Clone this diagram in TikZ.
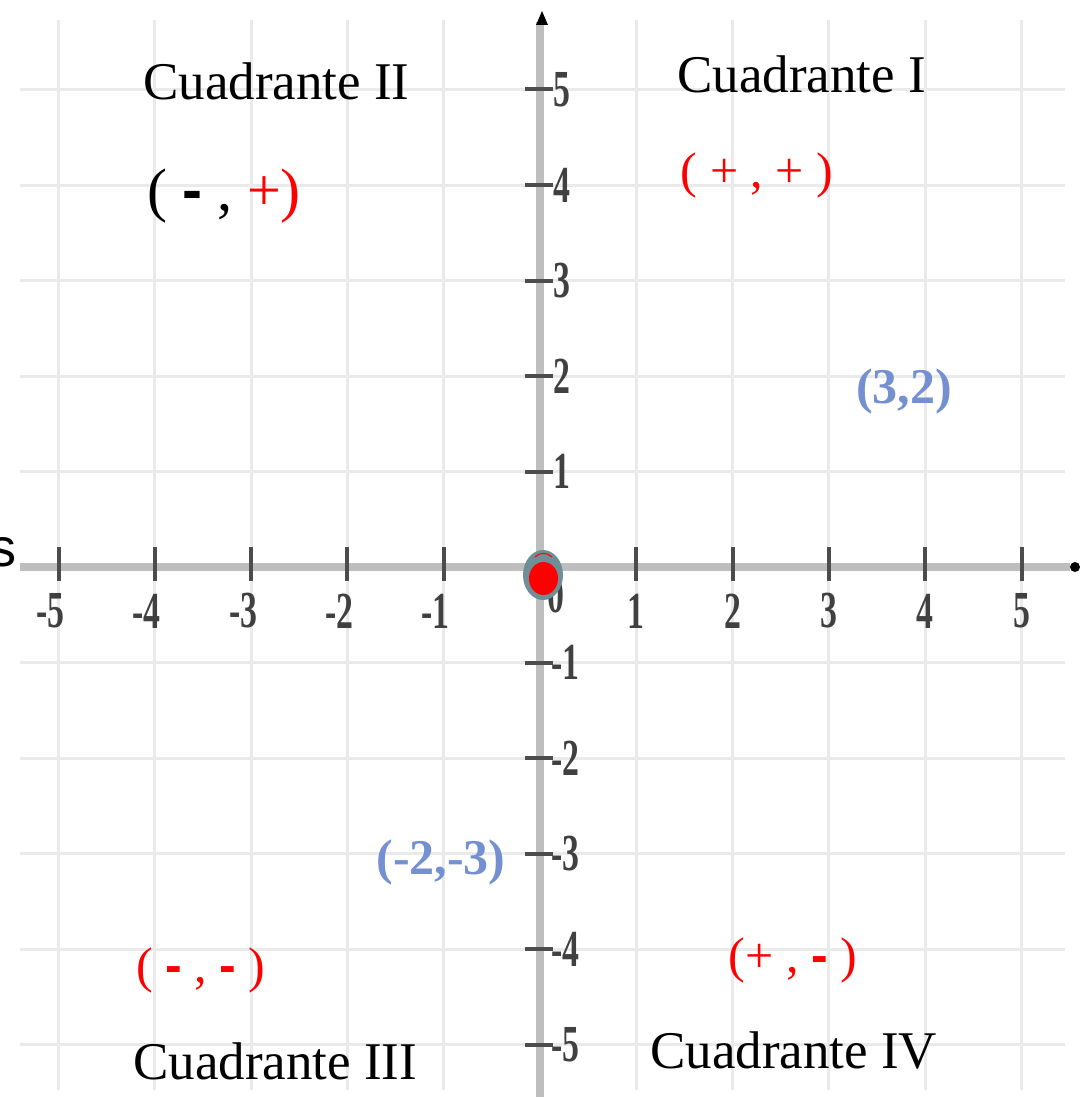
\documentclass[tikz,border=0pt]{standalone}
\usepackage{fontspec}
\usepackage{graphicx}
\setmainfont{Liberation Serif}
\newfontfamily\sansf{Liberation Sans}
\definecolor{ptblue}{RGB}{116,144,208}
\definecolor{ringgray}{RGB}{111,142,150}
\definecolor{gridgray}{RGB}{234,234,234}
\definecolor{axisgray}{RGB}{190,190,190}
\newcommand{\ticktxt}[1]{\scalebox{0.65}[1]{#1}}
\newcommand{\sdash}{{\sansf\bfseries -}}
\begin{document}
\begin{tikzpicture}[x=1pt,y=-1pt,
  gridline/.style={gridgray, line width=3pt},
  axisline/.style={axisgray, line width=8pt},
  tickmark/.style={black!70, line width=4pt},
  ticklbl/.style={inner sep=0pt, font=\fontsize{52}{52}\selectfont\bfseries, text=black!75},
  quad/.style={inner sep=0pt, anchor=base west, font=\fontsize{53}{58}\selectfont},
  sign/.style={inner sep=0pt, font=\fontsize{50}{54}\selectfont},
  coord/.style={inner sep=0pt, font=\fontsize{50}{54}\selectfont\bfseries, text=ptblue}
]
\useasboundingbox (0,0) rectangle (1084,1097);
\fill[white] (0,0) rectangle (1084,1097);

% grid
\foreach \i in {-5,...,5} {\draw[gridline] ({540+96.3*\i},20) -- ({540+96.3*\i},1090);}
\foreach \j in {-5,...,5} {\draw[gridline] (20,{567-95.5*\j}) -- (1065,{567-95.5*\j});}

% axes
\coordinate (xl) at (20,567);
\coordinate (xr) at (1070,567);
\coordinate (yt) at (540,22);
\coordinate (yb) at (540,1097);
\draw[axisline] (xl) -- (xr);
\draw[axisline] (yb) -- (yt);
\fill[black] (1075,567) circle (5);
\fill[black] (542,11) -- (536,25) -- (548,25) -- cycle;

% ticks on x axis
\foreach \i in {-5,...,-1,1,2,3,4,5} {\draw[tickmark] ({540+96.3*\i},547) -- ({540+96.3*\i},581);}
\foreach \i in {-5,...,-1} {\node[ticklbl] (xt\i) at ({540+96.3*\i-8},611) {\ticktxt{-\the\numexpr-\i\relax}};}
\foreach \i in {1,...,5} {\node[ticklbl] (xt\i) at ({540+96.3*\i},611) {\ticktxt{\i}};}

% ticks on y axis
\foreach \j in {-5,...,-1,1,2,3,4,5} {\draw[tickmark] (525,{567-95.5*\j}) -- (553,{567-95.5*\j});}
\foreach \j in {1,...,5} {\node[ticklbl, anchor=west] (yt\j) at (553,{567-95.5*\j}) {\ticktxt{\j}};}
\foreach \j in {-5,...,-1} {\node[ticklbl, anchor=west] (yt\j) at (551,{567-95.5*\j}) {\ticktxt{-\the\numexpr-\j\relax}};}
\node[ticklbl] (zero) at (556,595) {\ticktxt{0}};

% point at the origin
\fill[ringgray] (543,575) ellipse (20 and 25);
\fill[red] (543.5,578.5) ellipse (14.5 and 16.5);
\draw[red, line width=1pt] (535,557) .. controls (540,552) and (547,552) .. (552,557);

% cut-off letter at left
\node[anchor=base east, inner sep=0pt, font=\sansf\fontsize{54}{56}\selectfont] (s) at (17,566) {s};

% quadrant names
\node[quad] (q2) at (143,100) {Cuadrante II};
\node[quad] (q1) at (677,93) {Cuadrante I};
\node[quad] (q3) at (133,1079) {Cuadrante III};
\node[quad] (q4) at (650,1068) {Cuadrante IV};

% signs
\node[sign, font=\fontsize{60}{64}\selectfont] (s2) at (224,196) {( \sdash\ , \textcolor{red}{+)}};
\node[sign, text=red] (s1) at (757,175) {( + , + )};
\node[sign, text=red] (s3) at (201,970) {( \sdash\ , \sdash\ )};
\node[sign, text=red] (s4) at (793,960) {(+ , \sdash\ )};

% example points
\node[coord] (p32) at (904,391) {(3,2)};
\node[coord] (pm23) at (441,862) {(-2,-3)};
\end{tikzpicture}
\end{document}
